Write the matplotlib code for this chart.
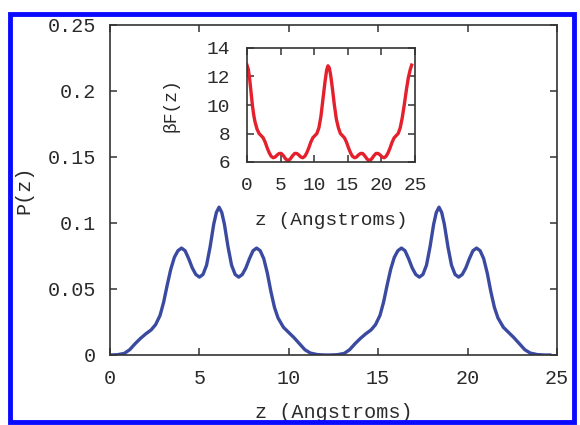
import matplotlib
matplotlib.use("Agg")
import matplotlib.pyplot as plt
from matplotlib.patches import Rectangle

# main curve: probability P(z)
z_main = [0.0, 0.4, 0.8, 1.1, 1.4, 1.7, 2.0, 2.3, 2.55, 2.8, 3.0, 3.2, 3.4, 3.6,
          3.8, 4.0, 4.2, 4.4, 4.6, 4.8, 5.0, 5.2, 5.4, 5.6, 5.8, 5.95, 6.1,
          6.25, 6.4, 6.6, 6.8, 7.0, 7.2, 7.4, 7.6, 7.8, 8.0, 8.2, 8.4, 8.6,
          8.8, 9.0, 9.2, 9.4, 9.7, 10.0, 10.3, 10.6, 10.9, 11.2, 11.6, 12.0,
          12.3, 12.7, 13.1, 13.4, 13.7, 14.0, 14.3, 14.6, 14.85, 15.1, 15.3,
          15.5, 15.7, 15.9, 16.1, 16.3, 16.5, 16.7, 16.9, 17.1, 17.3, 17.5,
          17.7, 17.9, 18.1, 18.25, 18.4, 18.55, 18.7, 18.9, 19.1, 19.3, 19.5,
          19.7, 19.9, 20.1, 20.3, 20.5, 20.7, 20.9, 21.1, 21.3, 21.5, 21.7,
          22.0, 22.3, 22.6, 22.9, 23.2, 23.5, 23.9, 24.3, 24.6]
p_main = [0.0, 0.0002, 0.0012, 0.004, 0.0085, 0.0125, 0.016, 0.019, 0.023, 0.030,
          0.040, 0.053, 0.065, 0.074, 0.079, 0.081, 0.079, 0.073, 0.066, 0.061,
          0.059, 0.061, 0.068, 0.082, 0.099, 0.108, 0.112, 0.108, 0.099, 0.082,
          0.068, 0.061, 0.059, 0.061, 0.066, 0.073, 0.079, 0.081, 0.079, 0.073,
          0.062, 0.048, 0.036, 0.028, 0.021, 0.017, 0.013, 0.0085, 0.004,
          0.0015, 0.0003, 0.0, 0.0, 0.0002, 0.0012, 0.004, 0.0085, 0.0125,
          0.016, 0.019, 0.023, 0.030, 0.040, 0.053, 0.065, 0.074, 0.079, 0.081,
          0.079, 0.073, 0.066, 0.061, 0.059, 0.061, 0.068, 0.082, 0.099, 0.108,
          0.112, 0.108, 0.099, 0.082, 0.068, 0.061, 0.059, 0.061, 0.066, 0.073,
          0.079, 0.081, 0.079, 0.073, 0.062, 0.048, 0.036, 0.028, 0.021, 0.017,
          0.013, 0.0085, 0.004, 0.0015, 0.0003, 0.0, 0.0]

# inset curve: free energy beta*F(z)
z_inset = [0.0, 0.2, 0.4, 0.6, 0.8, 1.0, 1.2, 1.5, 1.8, 2.1, 2.4, 2.7, 3.0, 3.3,
           3.6, 3.9, 4.2, 4.5, 4.8, 5.1, 5.4, 5.7, 6.0, 6.2, 6.5, 6.8, 7.1,
           7.4, 7.7, 8.0, 8.3, 8.6, 8.9, 9.2, 9.5, 9.8, 10.1, 10.4, 10.7, 11.0,
           11.3, 11.6, 11.85, 12.05, 12.25, 12.45, 12.7, 13.0, 13.3, 13.6,
           13.9, 14.2, 14.5, 14.8, 15.1, 15.4, 15.7, 16.0, 16.3, 16.6, 16.9,
           17.2, 17.5, 17.8, 18.1, 18.3, 18.6, 18.9, 19.2, 19.5, 19.8, 20.1,
           20.4, 20.7, 21.0, 21.3, 21.6, 21.9, 22.2, 22.5, 22.8, 23.1, 23.4,
           23.7, 24.0, 24.3, 24.5]
f_inset = [12.8, 12.5, 11.8, 10.9, 10.0, 9.3, 8.8, 8.3, 8.0, 7.85, 7.7, 7.4, 7.0,
           6.65, 6.4, 6.3, 6.35, 6.5, 6.6, 6.6, 6.45, 6.25, 6.1, 6.1, 6.25,
           6.45, 6.6, 6.6, 6.5, 6.35, 6.3, 6.4, 6.65, 7.0, 7.4, 7.7, 7.85, 8.0,
           8.4, 9.2, 10.4, 11.6, 12.45, 12.75, 12.6, 12.1, 11.2, 10.0, 9.0,
           8.4, 8.0, 7.85, 7.7, 7.4, 7.0, 6.65, 6.4, 6.3, 6.35, 6.5, 6.6, 6.6,
           6.45, 6.25, 6.1, 6.1, 6.25, 6.45, 6.6, 6.6, 6.5, 6.35, 6.3, 6.4,
           6.65, 7.0, 7.4, 7.7, 7.85, 8.0, 8.4, 9.1, 10.0, 11.0, 11.9, 12.5,
           12.8]

main_xticks = [0, 5, 10, 15, 20, 25]
main_yticks = [0, 0.05, 0.1, 0.15, 0.2, 0.25]
main_ylabels = ["0", "0.05", "0.1", "0.15", "0.2", "0.25"]
inset_xticks = [0, 5, 10, 15, 20, 25]
inset_yticks = [6, 8, 10, 12, 14]

plt.rcParams['font.family'] = ['Liberation Mono', 'DejaVu Sans']
ink = '#2a2a2a'

W, H = 580, 425
fig = plt.figure(figsize=(W / 100, H / 100), dpi=100)

# blue frame round the figure
fig.patches.append(Rectangle((9.5 / W, 3 / H), 564 / W, 408 / H, transform=fig.transFigure,
                             fill=False, edgecolor='#0a0aff', linewidth=3.5))


def style(ax, size):
    for s in ax.spines.values():
        s.set_color('#333333')
        s.set_linewidth(1.2)
    ax.tick_params(direction='in', top=True, right=True, length=5, width=1.1,
                   color='#333333', labelsize=size, labelcolor=ink)


ax = fig.add_axes([110 / W, 1 - 355 / H, 447 / W, 330 / H])
ax.plot(z_main, p_main, color='#3a4aa0', lw=2.4, solid_joinstyle='round')
ax.set_xlim(0, 25)
ax.set_ylim(0, 0.25)
ax.set_xticks(main_xticks)
ax.set_yticks(main_yticks)
ax.set_yticklabels(main_ylabels)
style(ax, 14.5)
ax.tick_params(axis='x', pad=10)
ax.tick_params(axis='y', pad=10)
ax.set_xlabel('z (Angstroms)', fontsize=14.5, color=ink, labelpad=11)
ax.set_ylabel('P(z)', fontsize=14.5, color=ink, labelpad=10)

ins = fig.add_axes([247 / W, 1 - 162 / H, 168 / W, 114 / H])
ins.plot(z_inset, f_inset, color='#e3202c', lw=2.4, solid_joinstyle='round')
ins.set_xlim(0, 25)
ins.set_ylim(6, 14)
ins.set_xticks(inset_xticks)
ins.set_yticks(inset_yticks)
style(ins, 14)
ins.tick_params(axis='x', pad=11)
ins.tick_params(axis='y', pad=12)
ins.set_xlabel('z (Angstroms)', fontsize=14, color=ink, labelpad=13)
ins.set_ylabel('\u03b2F(z)', fontsize=13, color=ink, labelpad=20)

fig.savefig('out.png', dpi=100, facecolor='white')
